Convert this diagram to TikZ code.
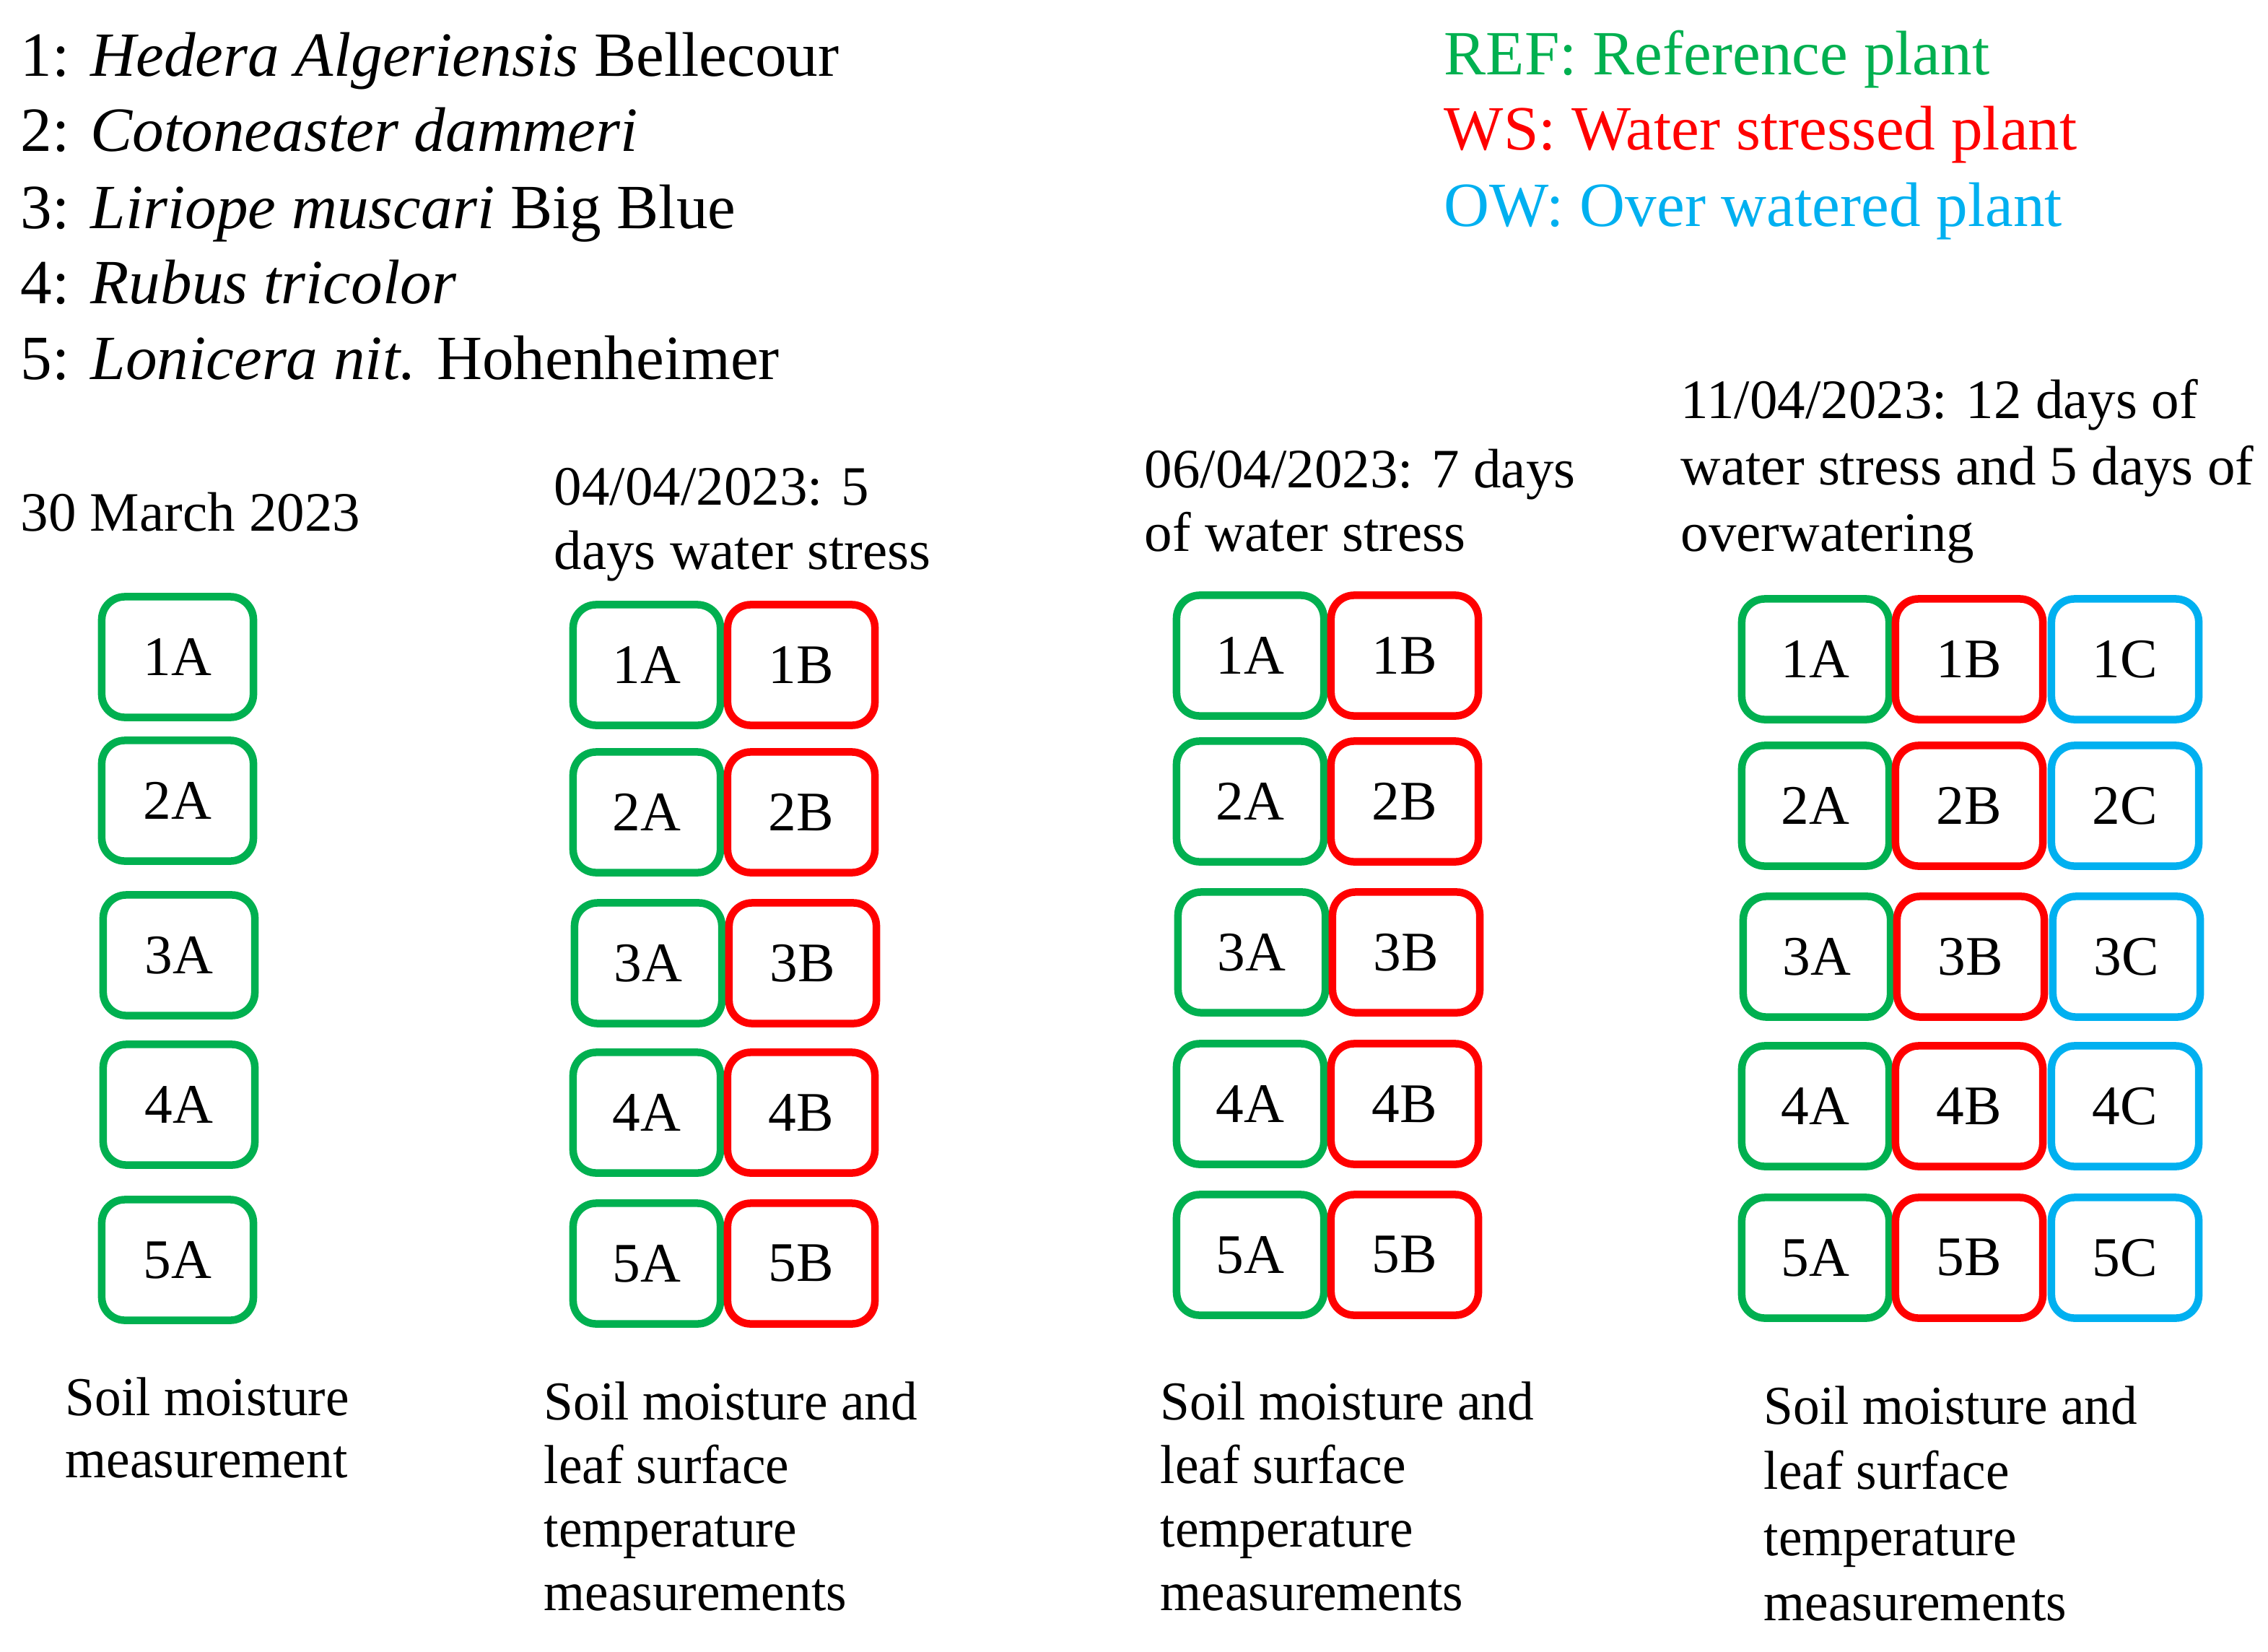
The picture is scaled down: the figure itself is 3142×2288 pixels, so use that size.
\documentclass[tikz,border=0pt]{standalone}
\usepackage{fontspec}
\setmainfont{Liberation Serif}
\newfontfamily\narrowserif[FakeStretch=0.965]{Liberation Serif}
\definecolor{refg}{HTML}{00B050}
\definecolor{wsr}{HTML}{FF0000}
\definecolor{owb}{HTML}{00B0F0}
\begin{document}
\begin{tikzpicture}[x=0.01cm,y=-0.01cm,
  plotbox/.style={draw, line width=0.105cm, rounded corners=0.32cm, minimum width=2.04cm, minimum height=1.67cm, inner sep=0pt, font=\fontsize{22}{26}\selectfont},
  refbox/.style={plotbox, draw=refg},
  wsbox/.style={plotbox, draw=wsr},
  owbox/.style={plotbox, draw=owb},
  leg/.style={anchor=base west, inner sep=0pt, font=\fontsize{24.8}{30}\selectfont},
  txt/.style={anchor=base west, inner sep=0pt, font=\fontsize{21.9}{26}\selectfont},
  foot/.style={anchor=base west, inner sep=0pt, font=\narrowserif\fontsize{21.6}{26}\selectfont}]
\useasboundingbox[fill=white] (0,0) rectangle (3142,2288);

% species legend
\node[leg] (s1) at (28,106) {1: \textit{Hedera Algeriensis} Bellecour};
\node[leg] (s2) at (28,210) {2: \textit{Cotoneaster dammeri}};
\node[leg] (s3) at (28,316) {3: \textit{Liriope muscari} Big Blue};
\node[leg] (s4) at (28,420) {4: \textit{Rubus tricolor}};
\node[leg] (s5) at (28,525) {5: \textit{Lonicera nit.} Hohenheimer};

% treatment legend
\node[leg, text=refg] (lref) at (2000,104) {REF: Reference plant};
\node[leg, text=wsr] (lws) at (2000,208) {WS: Water stressed plant};
\node[leg, text=owb] (low) at (2000,314) {OW: Over watered plant};

% headers
\node[txt] (h1) at (28,735) {30 March 2023};
\node[txt] (h2a) at (767,699) {04/04/2023: 5};
\node[txt] (h2b) at (767,788) {days\ water stress};
\node[txt] (h3a) at (1585,675) {06/04/2023: 7 days};
\node[txt] (h3b) at (1585,763) {of water stress};
\node[txt] (h4a) at (2328,579) {11/04/2023: 12 days of};
\node[txt] (h4b) at (2328,671) {water stress and 5 days of};
\node[txt] (h4c) at (2328,763) {overwatering};

% column 1
\node[refbox, minimum width=2.1cm] (c1r1) at (246,910) {1A};
\node[refbox, minimum width=2.1cm] (c1r2) at (246,1109) {2A};
\node[refbox, minimum width=2.1cm] (c1r3) at (248,1323) {3A};
\node[refbox, minimum width=2.1cm] (c1r4) at (248,1530) {4A};
\node[refbox, minimum width=2.1cm] (c1r5) at (246,1745) {5A};

% column 2
\node[refbox] (c2a1) at (896,921) {1A};
\node[wsbox]  (c2b1) at (1110,921) {1B};
\node[refbox] (c2a2) at (896,1125) {2A};
\node[wsbox]  (c2b2) at (1110,1125) {2B};
\node[refbox] (c2a3) at (898,1334) {3A};
\node[wsbox]  (c2b3) at (1112,1334) {3B};
\node[refbox] (c2a4) at (896,1541) {4A};
\node[wsbox]  (c2b4) at (1110,1541) {4B};
\node[refbox] (c2a5) at (896,1750) {5A};
\node[wsbox]  (c2b5) at (1110,1750) {5B};

% column 3
\node[refbox] (c3a1) at (1732,908) {1A};
\node[wsbox]  (c3b1) at (1946,908) {1B};
\node[refbox] (c3a2) at (1732,1110) {2A};
\node[wsbox]  (c3b2) at (1946,1110) {2B};
\node[refbox] (c3a3) at (1734,1319) {3A};
\node[wsbox]  (c3b3) at (1948,1319) {3B};
\node[refbox] (c3a4) at (1732,1529) {4A};
\node[wsbox]  (c3b4) at (1946,1529) {4B};
\node[refbox] (c3a5) at (1732,1738) {5A};
\node[wsbox]  (c3b5) at (1946,1738) {5B};

% column 4
\node[refbox] (c4a1) at (2515,913) {1A};
\node[wsbox]  (c4b1) at (2728,913) {1B};
\node[owbox]  (c4c1) at (2944,913) {1C};
\node[refbox] (c4a2) at (2515,1116) {2A};
\node[wsbox]  (c4b2) at (2728,1116) {2B};
\node[owbox]  (c4c2) at (2944,1116) {2C};
\node[refbox] (c4a3) at (2517,1325) {3A};
\node[wsbox]  (c4b3) at (2730,1325) {3B};
\node[owbox]  (c4c3) at (2946,1325) {3C};
\node[refbox] (c4a4) at (2515,1532) {4A};
\node[wsbox]  (c4b4) at (2728,1532) {4B};
\node[owbox]  (c4c4) at (2944,1532) {4C};
\node[refbox] (c4a5) at (2515,1742) {5A};
\node[wsbox]  (c4b5) at (2728,1742) {5B};
\node[owbox]  (c4c5) at (2944,1742) {5C};

% footers
\node[foot] (f1a) at (90,1960) {Soil moisture};
\node[foot] (f1b) at (90,2046) {measurement};
\node[foot] (f2a) at (753,1966) {Soil moisture and};
\node[foot] (f2b) at (753,2054) {leaf surface};
\node[foot] (f2c) at (753,2142) {temperature};
\node[foot] (f2d) at (753,2230) {measurements};
\node[foot] (f3a) at (1607,1966) {Soil moisture and};
\node[foot] (f3b) at (1607,2054) {leaf surface};
\node[foot] (f3c) at (1607,2142) {temperature};
\node[foot] (f3d) at (1607,2230) {measurements};
\node[foot] (f4a) at (2443,1972) {Soil moisture and};
\node[foot] (f4b) at (2443,2062) {leaf surface};
\node[foot] (f4c) at (2443,2154) {temperature};
\node[foot] (f4d) at (2443,2244) {measurements};
\end{tikzpicture}
\end{document}
